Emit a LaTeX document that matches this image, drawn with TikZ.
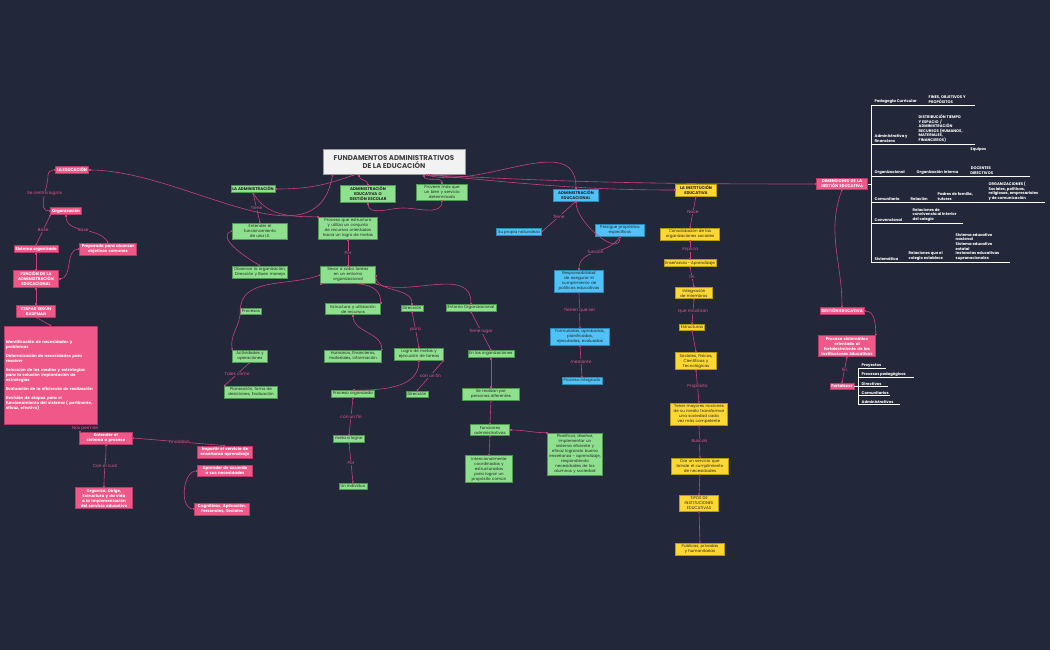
\documentclass[tikz,border=0pt]{standalone}
\usepackage{fontspec}
\setmainfont{Poppins}
\usetikzlibrary{arrows.meta}
\hyphenpenalty=10000
\exhyphenpenalty=10000
\definecolor{bg}{HTML}{222839}
\definecolor{pk}{HTML}{F0588A}
\definecolor{pkd}{HTML}{B83A66}
\definecolor{gr}{HTML}{8EE08E}
\definecolor{grd}{HTML}{4E9A50}
\definecolor{bl}{HTML}{4FC3F7}
\definecolor{bld}{HTML}{2A8AB8}
\definecolor{yl}{HTML}{FDD835}
\definecolor{yld}{HTML}{B89A10}
\definecolor{ln}{HTML}{C8407A}
\definecolor{lbc}{HTML}{E8568E}
\begin{document}
\begin{tikzpicture}[x=1pt,y=-1pt,
 base/.style={rectangle,inner sep=1.5pt,align=center,font=\fontsize{4}{5}\selectfont,line width=0.5pt},
 pkb/.style={base,fill=pk,draw=pkd,text=white,font=\fontsize{4}{5}\selectfont\bfseries},
 grb/.style={base,fill=gr,draw=grd,text=black!85},
 blb/.style={base,fill=bl,draw=bld,text=black!85},
 ylb/.style={base,fill=yl,draw=yld,text=black!85},
 lbl/.style={font=\fontsize{4.3}{5}\selectfont,text=lbc,fill=bg,inner sep=0.5pt},
 wt/.style={font=\fontsize{3.8}{4.6}\selectfont\bfseries,text=white,align=left,inner sep=0.5pt},
 cn/.style={draw=ln,line width=0.6pt,{Square[length=1.4pt,width=1.4pt]}-{Square[length=1.4pt,width=1.4pt]}},
 tl/.style={draw=white!75,line width=0.5pt}]
\fill[bg] (0,0) rectangle (1050,650);
\useasboundingbox (0,0) rectangle (1050,650);
% title
\node[rectangle,fill=black!5,draw=black!40,line width=0.8pt,minimum width=142pt,minimum height=25pt,align=center,font=\fontsize{7}{8.5}\selectfont\bfseries,text=black!75] (T) at (394,162) {FUNDAMENTOS ADMINISTRATIVOS\\DE LA EDUCACIÓN};
% left pink
\node[pkb] (edu) at (72,170) {LA EDUCACIÓN};
\node[pkb] (org) at (66,211) {Organización};
\node[pkb] (sis) at (36,249) {Sistema organizado};
\node[pkb,text width=54pt] (pre) at (108,249) {Preparado para alcanzar objetivos comunes};
\node[pkb,text width=42pt] (fun) at (36,279) {FUNCIÓN DE LA ADMINISTRACIÓN EDUCACIONAL};
\node[pkb,text width=36pt] (eta) at (36,311) {ETAPAS SEGÚN KAUFMAN};
\node[pkb,text width=90pt,align=left,minimum height=98pt] (lst) at (51,375) {Identificación de necesidades y problemas\\[4pt] Determinación de necesidades para resolver\\[4pt]Selección de los medios y estrategias para la solución implantación de estrategias\\[4pt]Evaluación de la eficiencia de realización\\[4pt]Revisión de etapas para el funcionamiento del sistema ( pertinente, eficaz, efectivo)};
\node[pkb,text width=50pt] (ent) at (106,438) {Entender el sistema o proceso};
\node[pkb,text width=52pt] (imp) at (225,452) {Impartir el servicio de enseñanza aprendizaje};
\node[pkb,text width=52pt] (apr) at (225,471) {Aprender de acuerdo a sus necesidades};
\node[pkb,text width=52pt] (cog) at (222,509) {Cognitivas, Aplicación, Personales, Sociales};
\node[pkb,text width=54pt] (orz) at (104,498) {Organiza, Dirige, Estructura y da vida a la implementación del servicio educativo};
% green
\node[grb,font=\fontsize{4}{5}\selectfont\bfseries] (adm) at (253,189) {LA ADMINISTRACIÓN};
\node[grb,font=\fontsize{4}{5}\selectfont\bfseries,text width=52pt] (aeg) at (368,194) {ADMINISTRACIÓN EDUCATIVA O GESTIÓN ESCOLAR};
\node[grb,text width=48pt] (prv) at (442,192) {Proveen más que un bien y servicio determinado};
\node[grb,text width=52pt] (efu) at (260,231) {Entender el funcionamiento de una I.E.};
\node[grb,text width=52pt] (obs) at (260,272) {Observar la organización, Dirección y Buen manejo};
\node[grb,text width=56pt] (pqe) at (348,228) {Proceso que estructura y utiliza un conjunto de recursos orientados hacia un logro de metas};
\node[grb,text width=52pt] (lle) at (348,275) {llevar a cabo tareas en un entorno organizacional};
\node[grb] (prc) at (251,311) {Procesos};
\node[grb,text width=52pt] (est) at (353,309) {Estructura y utilización de recursos};
\node[grb] (dir) at (412,308) {Dirección};
\node[grb] (eno) at (471,308) {Entorno Organizacional};
\node[grb,text width=32pt] (act) at (250,356) {Actividades y operaciones};
\node[grb,text width=50pt] (pla) at (251,392) {Planeación, toma de desiciones, Evaluación};
\node[grb,text width=54pt] (hum) at (353,356) {Humanos, financieros, materiales, información};
\node[grb,text width=46pt] (log) at (419,354) {Logro de metas y ejecución de tareas};
\node[grb] (enl) at (491,354) {En las organizaciones};
\node[grb] (por) at (353,394) {Proceso organizado};
\node[grb] (dr2) at (417,394) {Dirección};
\node[grb,text width=54pt] (ser) at (491,394) {Se realizan por personas diferentes};
\node[grb] (met) at (349,439) {meta a lograr};
\node[grb,text width=36pt] (fad) at (490,430) {Funciones administrativas};
\node[grb,text width=52pt] (pln) at (575,454) {Planificar, diseñar, implementar un sistema eficiente y eficaz logrando buena enseñanza - aprendizaje, respondiendo necesidades de los alumnos y sociedad};
\node[grb,text width=44pt] (int) at (489,469) {Intencionalmente coordinadas y estructuradas para lograr un propósito común};
\node[grb] (ind) at (353,486) {Un individuo};
% blue
\node[blb,font=\fontsize{4}{5}\selectfont\bfseries,text width=42pt] (aed) at (576,195) {ADMINISTRACIÓN EDUCACIONAL};
\node[blb] (spn) at (519,232) {Su propia naturaleza};
\node[blb,text width=46pt] (per) at (620,230) {Persigue propósitos específicos};
\node[blb,text width=46pt] (res) at (579,281) {Responsabilidad de asegurar el cumplimiento de políticas educativas};
\node[blb,text width=56pt] (frm) at (580,337) {Formuladas, aprobadas, planificadas, ejecutadas, evaluadas};
\node[blb] (pin) at (582,381) {Proceso integrado};
% yellow
\node[ylb,font=\fontsize{4}{5}\selectfont\bfseries,text width=38pt] (ie) at (696,190) {LA INSTITUCIÓN EDUCATIVA};
\node[ylb,text width=56pt] (con) at (690,234) {Consolidación de las organizaciones sociales};
\node[ylb] (ena) at (690,263) {Enseñanza - Aprendizaje};
\node[ylb,text width=34pt] (inm) at (694,293) {Integración de miembros};
\node[ylb] (estr) at (692,327) {Estructuras};
\node[ylb,text width=38pt] (soc) at (696,361) {Sociales, Físicas, Científicas y Tecnológicas};
\node[ylb,text width=54pt] (ten) at (699,414) {Tener mayores nociones de su medio transformar una sociedad cada vez más competente};
\node[ylb,text width=54pt] (dar) at (700,466) {Dar un servicio que brinde el cumplimiento de necesidades};
\node[ylb,text width=36pt] (tip) at (699,503) {TIPOS DE INSTITUCIONES EDUCATIVAS};
\node[ylb,text width=46pt] (pub) at (700,549) {Publicas, privadas y humanitarias};
% right
\node[pkb,text width=48pt] (dim) at (842,184) {DIMENSIONES DE LA GESTIÓN EDUCATIVA};
\node[pkb] (ges) at (842,311) {GESTIÓN EDUCATIVA};
\node[pkb,text width=54pt] (psi) at (847,346) {Proceso sistemático orientado al fortalecimiento de las Instituciones Educativas};
\node[pkb] (fort) at (842,386) {Fortalecer};
% dimensions tree
\coordinate (dimE) at (871,184);
\draw[tl] (871,105) -- (871,262);
\draw[tl] (871,105) -- (975,105); \draw[tl] (871,144) -- (975,144);
\draw[tl] (871,176) -- (1030,176); \draw[tl] (871,202) -- (1045,202);
\draw[tl] (871,223) -- (963,223); \draw[tl] (871,262) -- (1010,262);
\draw[tl] (dim.east) -- (dimE);
\node[wt,anchor=south west] at (874,104) {Pedagogía Curricular};
\node[wt,anchor=south west] at (928,104) {FINES, OBJETIVOS Y\\PROPÓSITOS};
\node[wt,anchor=south west] at (874,143) {Administrativa y\\financiera};
\node[wt,anchor=south west] at (918,143) {DISTRIBUCIÓN TIEMPO\\Y ESPACIO \ /\\ADMINISTRACIÓN\\RECURSOS (HUMANOS,\\MATERIALES,\\FINANCIEROS)};
\node[wt,anchor=south west] at (874,175) {Organizacional};
\node[wt,anchor=south west] at (916,175) {Organización interna};
\node[wt,anchor=south west] at (970,152) {Equipos};
\node[wt,anchor=south west,align=center] at (968,175) {DOCENTES\\ \ \ DIRECTIVOS};
\node[wt,anchor=south west] at (874,201) {Comunitario};
\node[wt,anchor=south west] at (910,201) {Relación};
\node[wt,anchor=south west] at (937,201) {Padres de familia,\\tutores};
\node[wt,anchor=south west] at (988,201) {ORGANIZACIONES (\\Sociales, políticas,\\religiosas, empresariales\\y de comunicación};
\node[wt,anchor=south west] at (874,222) {Convencional};
\node[wt,anchor=south west] at (912,222) {Relaciones de\\convivencia al interior\\del colegio};
\node[wt,anchor=south west] at (874,261) {Sistemática};
\node[wt,anchor=south west] at (908,261) {Relaciones que el\\colegio establece};
\node[wt,anchor=south west] at (955,261) {Sistema educativo\\nacional\\Sistema educativo\\estatal\\Instancias educativas\\supranacionales};
% fortalecer list
\coordinate (fl) at (858,386);
\draw[tl] (fort.east) -- (fl); \draw[tl] (858,368) -- (858,404);
\foreach \y/\t/\w in {368/Proyectos/28,377/Procesos pedagógicos/56,386/Directivos/30,395/Comunitarios/32,404/Administrativos/42}{
 \draw[tl] (858,\y) -- ++(\w,0);
 \node[wt,anchor=south west] at (861,\y) {\t};}
% connectors
\draw[cn] (T.south west) ++(10,0) to[out=260,in=0] (edu.east);
\draw[cn] (T.south) ++(-40,0) to[out=200,in=0] (adm.east);
\draw[cn] (T.south) ++(-35,0) to[out=270,in=90] (aeg.north);
\draw[cn] (T.south) ++(30,0) to[out=270,in=90] (prv.north);
\draw[cn] (T.south) ++(32,0) to[out=-15,in=90] (aed.north);
\draw[cn] (T.south) ++(34,0) to[out=-5,in=180] (ie.west);
\draw[cn] (T.south) ++(36,0) to[out=-3,in=180] (dim.west);
\draw[cn] (prv.south) to[out=270,in=0] (403,208) to[out=180,in=270] (aeg.south);
\draw[cn] (adm.south) to[out=-60,in=180] (pqe.north west);
\draw[cn] (adm.south) -- node[lbl]{Tiene} (efu.north);
\draw[cn] (efu.west) to[out=200,in=150] (obs.north);
\draw[cn] (pqe.south) -- node[lbl]{Por} (lle.north);
\draw[cn] (lle.west) to[out=200,in=90] (prc.west) to[out=270,in=100] (act.north west);
\draw[cn] (act.south) -- node[lbl]{Tales como} (pla.north west);
\draw[cn] (lle.south west) to[out=0,in=90] (est.north east);
\draw[cn] (est.south) to[out=270,in=90] (hum.north east);
\draw[cn] (lle.east) to[out=270,in=90] (dir.north);
\draw[cn] (dir.south) -- node[lbl]{para} (log.north);
\draw[cn] (lle.south east) to[out=-20,in=90] (eno.north);
\draw[cn] (eno.south) -- node[lbl]{Tiene lugar} (enl.north);
\draw[cn] (enl.south) -- (ser.north);
\draw[cn] (ser.south) -- (fad.north);
\draw[cn] (pln.north west) to[out=180,in=0] (fad.east);
\draw[cn] (fad.south) -- (int.north);
\draw[cn] (log.south) to[out=270,in=0] (por.north);
\draw[cn] (log.south east) -- node[lbl]{con un fin} (dr2.north);
\draw[cn] (por.south) -- node[lbl]{con un fin} (met.north);
\draw[cn] (met.south) -- node[lbl]{Por} (ind.north);
\draw[cn] (org.west) to[out=180,in=270] node[lbl,pos=0.6]{Se centra logros} (48,175) to[out=90,in=180] (edu.west);
\draw[cn] (sis.north) -- node[lbl]{Base} (org.south west);
\draw[cn] (pre.north) to[out=120,in=270] node[lbl]{Base} (org.south);
\draw[cn] (fun.north) -- (sis.south);
\draw[cn] (fun.east) to[out=0,in=180] (pre.west);
\draw[cn] (fun.south) -- (eta.north);
\draw[cn] (lst.north) -- (eta.south);
\draw[cn] (lst.south) ++(40,0) -- node[lbl]{Nos permite} (ent.north west);
\draw[cn] (ent.east) -- node[lbl]{Finalidad} (imp.north);
\draw[cn] (orz.north) to[out=90,in=270] node[lbl]{Con el cual} (ent.south);
\draw[cn] (cog.west) to[out=180,in=180] (apr.west);
\draw[cn] (aed.south) -- node[lbl]{Tiene} (spn.east);
\draw[cn] (aed.south) to[out=270,in=270] (per.south);
\draw[cn] (per.south) to[out=240,in=90] node[lbl]{función} (res.north);
\draw[cn] (res.south) -- node[lbl]{Tienen que ser} (frm.north);
\draw[cn] (frm.south) -- node[lbl]{mediante} (pin.north);
\draw[cn] (ie.south) -- node[lbl]{Nace} (con.north);
\draw[cn] (con.south) -- node[lbl]{Implica} (ena.north);
\draw[cn] (ena.south) -- node[lbl]{fin} (inm.north);
\draw[cn] (inm.south) -- node[lbl]{Que movilizan} (estr.north);
\draw[cn] (estr.south) -- (soc.north);
\draw[cn] (soc.south) -- node[lbl]{Propósito} (ten.north);
\draw[cn] (ten.south) -- node[lbl]{Buscan} (dar.north);
\draw[cn] (dar.south) -- (tip.north);
\draw[cn] (tip.south) -- (pub.north);
\draw[cn] (dim.south) to[out=250,in=90] (ges.north);
\draw[cn] (ges.east) to[out=0,in=90] (psi.north east);
\draw[cn] (psi.south) -- node[lbl]{fin} (fort.north);
\end{tikzpicture}
\end{document}
